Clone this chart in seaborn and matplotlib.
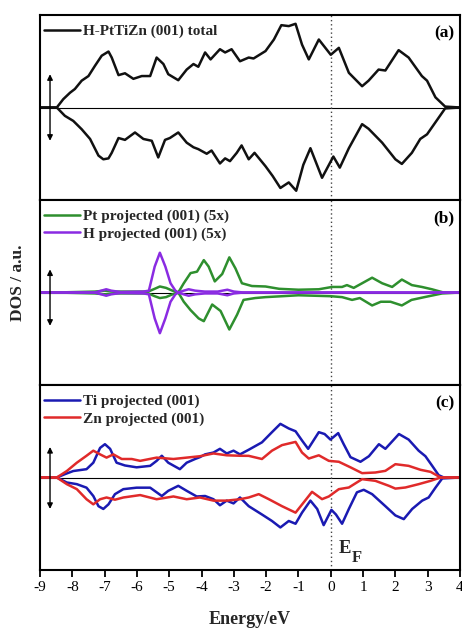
import matplotlib
matplotlib.use("Agg")
import matplotlib.pyplot as plt
import seaborn as sns
import pandas as pd

# ---------------- data ----------------
TOTAL_UP_E = [-9, -8.48, -8.28, -8.07, -7.92, -7.71, -7.50, -7.30, -7.09, -6.88, -6.78, -6.57, -6.37, -6.11,
              -5.85, -5.59, -5.39, -5.18, -5.03, -4.72, -4.46, -4.25, -4.10, -3.89, -3.72, -3.43, -3.27,
              -3.07, -2.81, -2.54, -2.39, -2.02, -1.76, -1.53, -1.30, -1.09, -0.89, -0.68, -0.37, 0.0,
              0.25, 0.56, 0.97, 1.17, 1.48, 1.69, 2.10, 2.41, 2.82, 2.98, 3.24, 3.54, 4.0]
TOTAL_UP_V = [0, 0, 0.09, 0.16, 0.20, 0.29, 0.34, 0.45, 0.56, 0.605, 0.54, 0.35, 0.37, 0.31,
              0.34, 0.34, 0.54, 0.47, 0.36, 0.295, 0.41, 0.47, 0.44, 0.595, 0.52, 0.63, 0.595,
              0.63, 0.50, 0.54, 0.53, 0.61, 0.735, 0.89, 0.88, 0.905, 0.68, 0.52, 0.735, 0.57,
              0.645, 0.375, 0.23, 0.29, 0.41, 0.40, 0.62, 0.54, 0.34, 0.29, 0.11, 0.01, 0]

TOTAL_DN_E = [-9, -8.48, -8.23, -7.97, -7.71, -7.45, -7.19, -7.04, -6.88, -6.78, -6.57, -6.37, -6.06, -5.80,
              -5.54, -5.34, -5.13, -4.98, -4.72, -4.46, -4.25, -4.10, -3.84, -3.69, -3.43, -3.27, -3.12,
              -2.91, -2.76, -2.54, -2.36, -2.02, -1.80, -1.56, -1.30, -1.07, -0.85, -0.63, -0.27, 0.08,
              0.28, 0.56, 0.97, 1.17, 1.59, 2.0, 2.20, 2.51, 2.77, 2.98, 3.24, 3.54, 4.0]
TOTAL_DN_V = [0, 0, -0.09, -0.145, -0.235, -0.34, -0.52, -0.56, -0.55, -0.49, -0.33, -0.35, -0.27, -0.34,
              -0.36, -0.54, -0.35, -0.33, -0.27, -0.38, -0.43, -0.45, -0.50, -0.465, -0.605, -0.55, -0.58,
              -0.49, -0.41, -0.56, -0.49, -0.635, -0.74, -0.87, -0.81, -0.90, -0.62, -0.44, -0.76, -0.53,
              -0.65, -0.44, -0.18, -0.23, -0.38, -0.56, -0.61, -0.49, -0.34, -0.29, -0.16, -0.01, 0]

PT_UP_E = [-9, -8.5, -7.3, -7.0, -6.7, -6.0, -5.65, -5.45, -5.29, -5.1, -4.9, -4.72, -4.55, -4.34, -4.14,
           -3.93, -3.78, -3.59, -3.36, -3.14, -2.95, -2.75, -2.44, -2.02, -1.6, -1.0, -0.37, 0.04, 0.35,
           0.50, 0.71, 0.97, 1.28, 1.59, 1.9, 2.20, 2.51, 2.82, 3.13, 3.49, 4.0]
PT_UP_V = [0, 0, 0.01, 0.02, 0.01, 0.01, 0.01, 0.04, 0.065, 0.05, 0.02, 0.0, 0.10, 0.21, 0.225,
           0.35, 0.28, 0.12, 0.20, 0.38, 0.26, 0.10, 0.07, 0.065, 0.04, 0.03, 0.035, 0.06, 0.06,
           0.08, 0.05, 0.10, 0.16, 0.10, 0.06, 0.14, 0.08, 0.06, 0.035, 0.0, 0]

PT_DN_E = [-9, -8.5, -7.3, -7.0, -6.7, -6.0, -5.65, -5.45, -5.29, -5.1, -4.9, -4.72, -4.55, -4.34, -4.09,
           -3.93, -3.67, -3.41, -3.14, -2.90, -2.70, -2.34, -2.02, -1.5, -1.0, 0.0, 0.35, 0.66, 0.9,
           1.28, 1.55, 1.85, 2.20, 2.5, 2.9, 3.45, 4.0]
PT_DN_V = [0, 0, -0.01, -0.02, -0.01, -0.01, -0.01, -0.04, -0.06, -0.05, -0.02, 0.0, -0.10, -0.19, -0.28,
           -0.31, -0.13, -0.20, -0.40, -0.24, -0.08, -0.06, -0.05, -0.04, -0.03, -0.04, -0.05, -0.08, -0.06,
           -0.14, -0.10, -0.10, -0.14, -0.08, -0.05, -0.01, 0]

H_UP_E = [-9, -7.3, -7.1, -6.95, -6.8, -6.5, -5.8, -5.63, -5.45, -5.29, -5.12, -4.96, -4.81, -4.72,
          -4.55, -4.4, -4.2, -3.9, -3.5, -3.2, -3.0, -2.7, 4.0]
H_UP_V = [0, 0, 0.02, 0.035, 0.02, 0.005, 0.01, 0.02, 0.28, 0.43, 0.28, 0.10, 0.02, 0.0,
          0.02, 0.035, 0.02, 0.01, 0.01, 0.03, 0.01, 0.0, 0]
H_DN_E = [-9, -7.3, -7.1, -6.95, -6.8, -6.5, -5.8, -5.63, -5.45, -5.29, -5.12, -4.96, -4.81, -4.72,
          -4.55, -4.4, -4.2, -3.9, -3.5, -3.2, -3.0, -2.7, 4.0]
H_DN_V = [0, 0, -0.02, -0.035, -0.02, -0.005, -0.01, -0.02, -0.28, -0.44, -0.28, -0.10, -0.02, 0.0,
          -0.02, -0.035, -0.02, -0.01, -0.01, -0.03, -0.01, 0.0, 0]

TI_UP_E = [-9, -8.48, -8.23, -7.97, -7.56, -7.35, -7.14, -6.99, -6.83, -6.63, -6.37, -6.01, -5.59, -5.39,
           -5.23, -5.03, -4.67, -4.46, -4.20, -4.05, -3.89, -3.63, -3.43, -3.22, -3.01, -2.81, -2.54,
           -2.13, -1.82, -1.56, -1.30, -1.09, -0.89, -0.70, -0.37, -0.19, -0.01, 0.23, 0.40, 0.61,
           0.92, 1.18, 1.49, 1.69, 2.11, 2.41, 2.72, 2.93, 3.14, 3.34, 3.50, 4.0]
TI_UP_V = [0, 0, 0.036, 0.07, 0.09, 0.16, 0.32, 0.36, 0.31, 0.16, 0.13, 0.11, 0.126, 0.18,
           0.235, 0.16, 0.09, 0.16, 0.20, 0.22, 0.25, 0.27, 0.31, 0.26, 0.29, 0.25, 0.30,
           0.38, 0.49, 0.58, 0.53, 0.50, 0.40, 0.31, 0.49, 0.47, 0.41, 0.48, 0.36, 0.22,
           0.17, 0.23, 0.36, 0.31, 0.47, 0.41, 0.29, 0.23, 0.126, 0.025, 0, 0]

ZN_UP_E = [-9, -8.48, -8.17, -7.86, -7.56, -7.35, -7.14, -6.94, -6.73, -6.47, -6.16, -5.90, -5.39, -4.87,
           -4.46, -4.05, -3.63, -3.22, -2.81, -2.54, -2.13, -1.82, -1.51, -1.09, -0.89, -0.68, -0.37,
           -0.06, 0.25, 0.61, 0.97, 1.38, 1.69, 2.0, 2.41, 2.78, 3.09, 3.40, 4.0]
ZN_UP_V = [0, 0, 0.07, 0.16, 0.235, 0.29, 0.25, 0.215, 0.25, 0.20, 0.20, 0.18, 0.215, 0.20,
           0.215, 0.23, 0.26, 0.24, 0.235, 0.234, 0.20, 0.29, 0.35, 0.385, 0.27, 0.205, 0.24,
           0.18, 0.17, 0.11, 0.047, 0.054, 0.072, 0.144, 0.126, 0.083, 0.061, 0, 0]

TI_DN_E = [-9, -8.48, -8.17, -7.86, -7.56, -7.35, -7.19, -7.04, -6.88, -6.68, -6.42, -6.01, -5.59, -5.23,
           -5.03, -4.72, -4.46, -4.15, -3.89, -3.63, -3.43, -3.22, -3.01, -2.81, -2.54, -2.13, -1.82,
           -1.56, -1.30, -1.09, -0.89, -0.63, -0.42, -0.22, 0.02, 0.16, 0.35, 0.56, 0.81, 1.02,
           1.28, 1.69, 2.0, 2.26, 2.52, 2.83, 3.03, 3.24, 3.45, 4.0]
TI_DN_V = [0, 0, -0.054, -0.072, -0.11, -0.20, -0.31, -0.34, -0.29, -0.18, -0.126, -0.11, -0.11, -0.20,
           -0.144, -0.09, -0.144, -0.205, -0.20, -0.235, -0.30, -0.25, -0.28, -0.216, -0.31, -0.40, -0.47,
           -0.54, -0.47, -0.50, -0.38, -0.25, -0.34, -0.515, -0.35, -0.40, -0.50, -0.34, -0.16, -0.133,
           -0.18, -0.31, -0.41, -0.45, -0.34, -0.25, -0.216, -0.11, -0.01, 0]

ZN_DN_E = [-9, -8.48, -8.17, -7.86, -7.56, -7.35, -7.14, -6.94, -6.68, -6.42, -5.90, -5.39, -4.87, -4.46,
           -4.05, -3.63, -3.22, -2.81, -2.54, -2.23, -1.92, -1.51, -1.09, -0.84, -0.58, -0.27, -0.06,
           0.25, 0.56, 0.97, 1.38, 1.80, 2.0, 2.31, 2.72, 3.09, 3.40, 4.0]
ZN_DN_V = [0, 0, -0.072, -0.126, -0.235, -0.29, -0.235, -0.216, -0.24, -0.216, -0.19, -0.235, -0.205, -0.235,
           -0.216, -0.25, -0.25, -0.235, -0.216, -0.18, -0.234, -0.31, -0.38, -0.27, -0.155, -0.234, -0.205,
           -0.126, -0.108, -0.018, -0.036, -0.09, -0.12, -0.108, -0.072, -0.036, 0, 0]

XTICKS = [-9, -8, -7, -6, -5, -4, -3, -2, -1, 0, 1, 2, 3, 4]
PANEL_LABELS = ["(a)", "(b)", "(c)"]

# ---------------- style ----------------
sns.set_theme(style="white")
plt.rcParams["font.family"] = ["Liberation Serif", "DejaVu Serif"]
plt.rcParams["axes.unicode_minus"] = False
plt.rcParams["axes.edgecolor"] = "black"
plt.rcParams["axes.linewidth"] = 1.5
plt.rcParams["lines.solid_joinstyle"] = "round"

C_BLACK = "#111111"
C_GREEN = "#2e8f2e"
C_PURPLE = "#8a2be2"
C_BLUE = "#1a1ab2"
C_RED = "#e02a2a"

W, H = 462, 628
fig = plt.figure(figsize=(W / 100, H / 100), dpi=100)
left, right = 40 / W, 460 / W
tops = [15, 200, 385]
ph = 185
axes = [fig.add_axes([left, 1 - (t + ph) / H, right - left, ph / H]) for t in tops]


def curve(ax, E, V, color, label=None):
    df = pd.DataFrame({"E": E, "V": V})
    sns.lineplot(data=df, x="E", y="V", ax=ax, color=color, lw=1.8, label=label,
                 estimator=None, sort=False, legend=False)


curve(axes[0], TOTAL_UP_E, TOTAL_UP_V, C_BLACK, "H-PtTiZn (001) total")
curve(axes[0], TOTAL_DN_E, TOTAL_DN_V, C_BLACK)

curve(axes[1], PT_UP_E, PT_UP_V, C_GREEN, "Pt projected (001) (5x)")
curve(axes[1], PT_DN_E, PT_DN_V, C_GREEN)
curve(axes[1], H_UP_E, H_UP_V, C_PURPLE, "H projected (001) (5x)")
curve(axes[1], H_DN_E, H_DN_V, C_PURPLE)

curve(axes[2], TI_UP_E, TI_UP_V, C_BLUE, "Ti projected (001)")
curve(axes[2], TI_DN_E, TI_DN_V, C_BLUE)
curve(axes[2], ZN_UP_E, ZN_UP_V, C_RED, "Zn projected (001)")
curve(axes[2], ZN_DN_E, ZN_DN_V, C_RED)

arrow_spans = [(-0.36, 0.36), (-0.36, 0.25), (-0.34, 0.33)]
for i, ax in enumerate(axes):
    ax.set_xlim(-9, 4)
    ax.set_ylim(-1, 1)
    ax.axhline(0, color="black", lw=0.8, zorder=1)
    ax.axvline(0, color="#444444", lw=1.0, ls=(0, (1, 2)), zorder=1)
    ax.set_yticks([])
    ax.set_ylabel("")
    ax.set_xlabel("")
    for s in ax.spines.values():
        s.set_linewidth(1.5)
        s.set_color("black")
    lo, hi = arrow_spans[i]
    ax.annotate("", xy=(-8.69, hi), xytext=(-8.69, lo),
                arrowprops=dict(arrowstyle="<|-|>", color="black", lw=1.0,
                                mutation_scale=8, shrinkA=0, shrinkB=0))
    ax.text(0.986, 0.9, PANEL_LABELS[i], transform=ax.transAxes, ha="right", va="center",
            fontsize=12.5, fontweight="bold", color="black")
    ax.legend(loc="upper left", bbox_to_anchor=(0.0, 0.97), frameon=False,
              handlelength=2.35, handletextpad=0.2, labelspacing=0.25,
              borderaxespad=0.15, borderpad=0.1,
              prop={"weight": "bold", "size": 11, "family": "Liberation Serif"})
    if i < 2:
        ax.set_xticks([])
    else:
        ax.set_xticks(XTICKS)
        ax.set_xticklabels([str(t) for t in XTICKS])
        ax.tick_params(axis="x", direction="out", length=5, width=1.3, labelsize=11,
                       pad=3, colors="black", bottom=True)

axes[2].text(0.25, -0.77, "E", fontsize=13.5, fontweight="bold", ha="left", va="center")
axes[2].text(0.64, -0.87, "F", fontsize=12, fontweight="bold", ha="left", va="center")

fig.text(18 / W, 1 - 283 / H, "DOS / a.u.", rotation=90, ha="center", va="center",
         fontsize=12.5, fontweight="bold")
fig.text((40 + 460) / 2 / W, 1 - 619 / H, "Energy/eV", ha="center", va="center",
         fontsize=13, fontweight="bold")

fig.savefig("out.png", dpi=100)
